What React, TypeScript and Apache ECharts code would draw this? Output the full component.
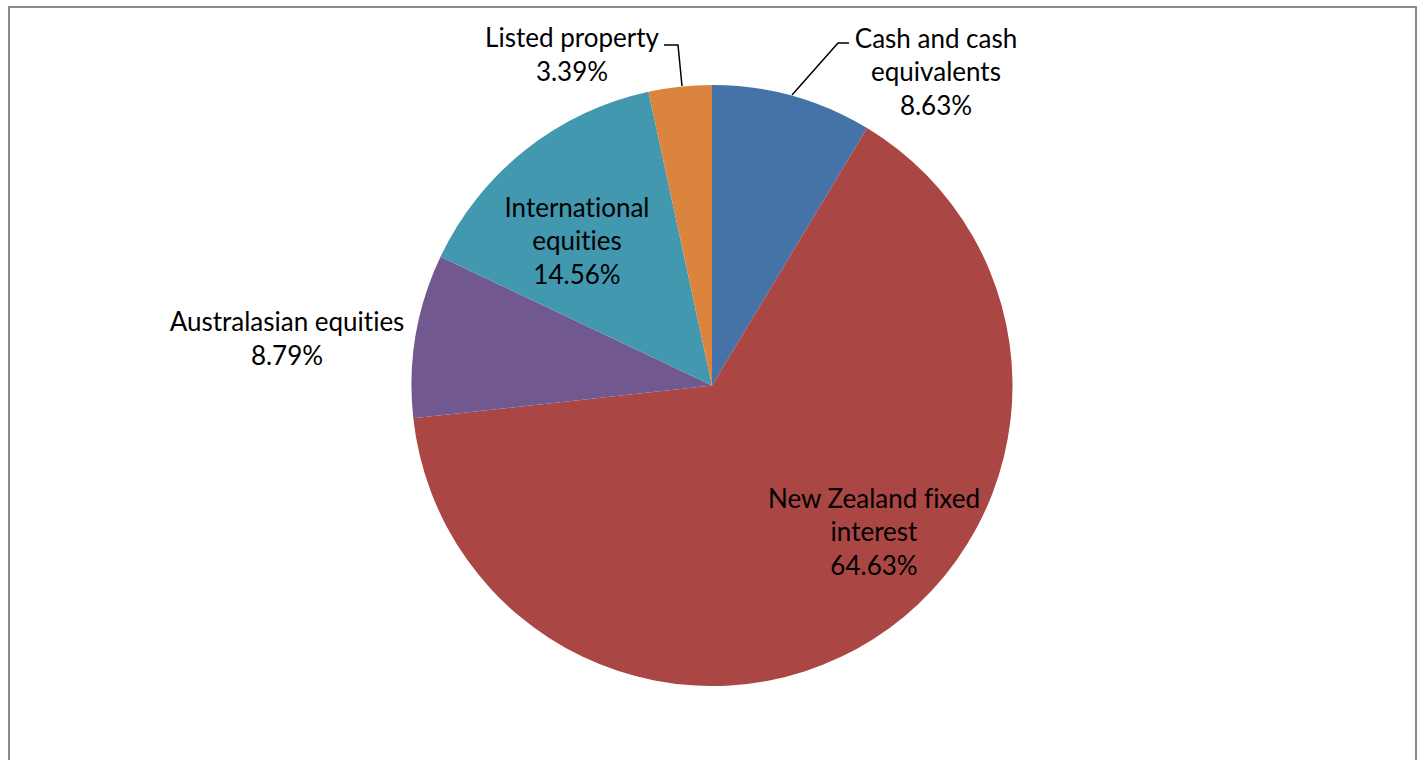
import React, { useEffect, useRef } from "react";
import * as echarts from "echarts";

const categories: string[] = [
  "Cash and cash\nequivalents",
  "New Zealand fixed\ninterest",
  "Australasian equities",
  "International\nequities",
  "Listed property",
];
const values: number[] = [8.63, 64.63, 8.79, 14.56, 3.39];
const colors: string[] = ["#4572A7", "#AA4643", "#71588F", "#4198AF", "#DB843D"];
const showLeader: boolean[] = [true, false, false, false, true];

// label centres (px) and leader line points, layout only
const labelCenters: [number, number][] = [
  [936, 71],
  [874, 531],
  [287, 338],
  [577, 240],
  [572, 54],
];
const leaderLines: ([number, number][] | null)[] = [
  [[792, 95], [838, 43], [849, 43]],
  null,
  null,
  null,
  [[682, 86], [678, 45], [664, 45]],
];

export default function App() {
  const ref = useRef<HTMLDivElement>(null);
  useEffect(() => {
    if (!ref.current) return;
    const chart = echarts.init(ref.current, null, { renderer: "svg" });
    const data = categories.map((name, i) => ({
      name,
      value: values[i],
      itemStyle: { color: colors[i] },
      labelLine: { show: showLeader[i] },
    }));
    chart.setOption({
      animation: false,
      backgroundColor: "#ffffff",
      graphic: [
        {
          type: "rect",
          shape: { x: 9, y: 7, width: 1407, height: 800 },
          style: { fill: "none", stroke: "#8a8a8a", lineWidth: 2 },
          silent: true,
        },
      ],
      series: [
        {
          type: "pie",
          center: [712, 385.5],
          radius: [0, 300.5],
          startAngle: 90,
          clockwise: true,
          avoidLabelOverlap: false,
          emphasis: { disabled: true },
          itemStyle: { borderWidth: 0 },
          label: {
            show: true,
            position: "outside",
            formatter: (p: any) => `${p.name}\n${p.value.toFixed(2)}%`,
            color: "#000000",
            fontFamily: "Lato",
            fontSize: 26,
            lineHeight: 33.5,
            align: "center",
            overflow: "none",
          },
          labelLine: {
            show: true,
            lineStyle: { color: "#000000", width: 1.5 },
          },
          labelLayout: (params: any) => {
            const i = params.dataIndex;
            const c = labelCenters[i];
            const res: any = {
              x: c[0],
              y: c[1],
              align: "center",
              verticalAlign: "middle",
            };
            const l = leaderLines[i];
            if (l) res.labelLinePoints = l;
            return res;
          },
          data,
        },
      ],
    });
    return () => chart.dispose();
  }, []);
  return (
    <>
      <style>{`svg text { font-variant-ligatures: none !important; font-feature-settings: "liga" 0, "clig" 0 !important; }`}</style>
      <div
        ref={ref}
        style={{ position: "absolute", left: 0, top: 0, width: 1422, height: 760 }}
      />
    </>
  );
}
